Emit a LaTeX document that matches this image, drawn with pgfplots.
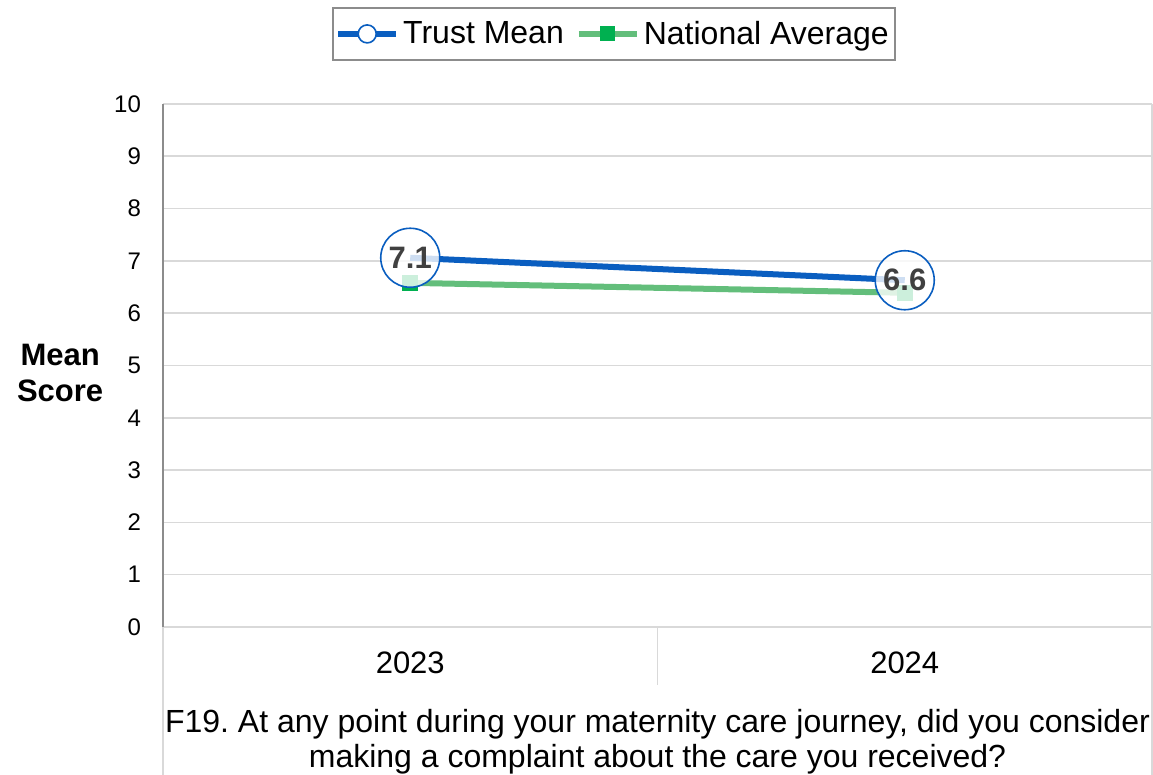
\documentclass[border=0pt]{standalone}
\usepackage{fontspec}
\setmainfont{Liberation Sans}
\usepackage{pgfplots}
\pgfplotsset{compat=1.18}

\definecolor{trustblue}{HTML}{0A5EC0}
\definecolor{natline}{HTML}{63BE7B}
\definecolor{natmark}{HTML}{00B050}
\definecolor{gridgray}{HTML}{D9D9D9}
\definecolor{axisgray}{HTML}{8C8C8C}
\definecolor{labelgray}{HTML}{404040}

\begin{document}
\begin{tikzpicture}
\path[use as bounding box] (-81.5pt,-74pt) rectangle (495pt,313.5pt);
\begin{axis}[
  at={(0,0)}, anchor=south west,
  scale only axis,
  width=494.5pt, height=261.5pt,
  xmin=-0.5, xmax=1.5,
  ymin=0, ymax=10,
  xtick={0,1}, xticklabels={2023,2024},
  ytick={0,1,...,10},
  major tick length=0pt,
  clip=false,
  axis x line*=bottom, axis y line*=left,
  x axis line style={draw=gridgray, line width=0.8pt, -},
  y axis line style={draw=axisgray, line width=0.8pt, -},
  ymajorgrids, major grid style={draw=gridgray, line width=0.8pt},
  /pgf/number format/assume math mode=true,
  yticklabel style={font=\fontsize{12}{14}\selectfont, xshift=-7.5pt},
  xticklabel style={font=\fontsize{15.5}{18}\selectfont, yshift=-9pt},
  every axis y label/.style={at={(axis description cs:-0.104,0.486)}, anchor=center, align=center, font=\fontsize{15.5}{18}\selectfont\bfseries},
  ylabel={Mean\\Score},
  legend columns=2,
  legend style={at={(axis description cs:0.456,1.134)}, anchor=center,
    draw=axisgray, line width=0.8pt, font=\fontsize{16}{19}\selectfont,
    /tikz/every even column/.append style={column sep=4pt},
    inner xsep=1pt, inner ysep=4.5pt},
  legend image code/.code={%
    \draw[#1, mark repeat=2, mark phase=2] plot coordinates {(0pt,0pt) (14.5pt,0pt) (29pt,0pt)};},
]
% legend entries in reference order
\addlegendimage{trustblue, line width=3pt, mark=*,
  mark options={draw=trustblue, fill=white, line width=0.8pt}, mark size=4.5pt}
\addlegendentry{Trust Mean}
\addlegendimage{natline, line width=3pt, mark=square*,
  mark options={draw=natmark, fill=natmark, line width=0pt}, mark size=3.5pt}
\addlegendentry{National Average}

% Trust Mean line
\addplot[trustblue, line width=3pt, mark=none, forget plot]
  coordinates {(0,7.06) (1,6.63)};
% National Average
\addplot[natline, line width=3pt, mark=square*,
  mark options={draw=natmark, fill=natmark, line width=0pt}, mark size=3.75pt, forget plot]
  coordinates {(0,6.58) (1,6.39)};
% Trust Mean data labels
\addplot[draw=none, mark=none, forget plot,
  nodes near coords, nodes near coords align=center,
  point meta=y,
  every node near coord/.style={circle, draw=trustblue, line width=0.8pt,
    fill=white, fill opacity=0.8, text opacity=1, draw opacity=1, text=labelgray,
    minimum size=29.5pt, inner sep=0pt, anchor=center,
    font=\fontsize{15.5}{18}\selectfont\bfseries,
    /pgf/number format/.cd, fixed, fixed zerofill, precision=1, assume math mode=true}]
  coordinates {(0,7.06) (1,6.63)};
\end{axis}
% category table and question text below the axis
\draw[gridgray, line width=0.8pt] (0pt,0pt) -- (0pt,-74pt);
\draw[gridgray, line width=0.8pt] (494.5pt,261.5pt) -- (494.5pt,-74pt);
\draw[gridgray, line width=0.8pt] (247.25pt,0pt) -- (247.25pt,-29pt);
\node[align=center, font=\fontsize{16}{17.5}\selectfont, anchor=center]
  at (247.25pt,-57.5pt)
  {F19.\ At any point during your maternity care journey, did you consider\\making a complaint about the care you received?};
\end{tikzpicture}
\end{document}
